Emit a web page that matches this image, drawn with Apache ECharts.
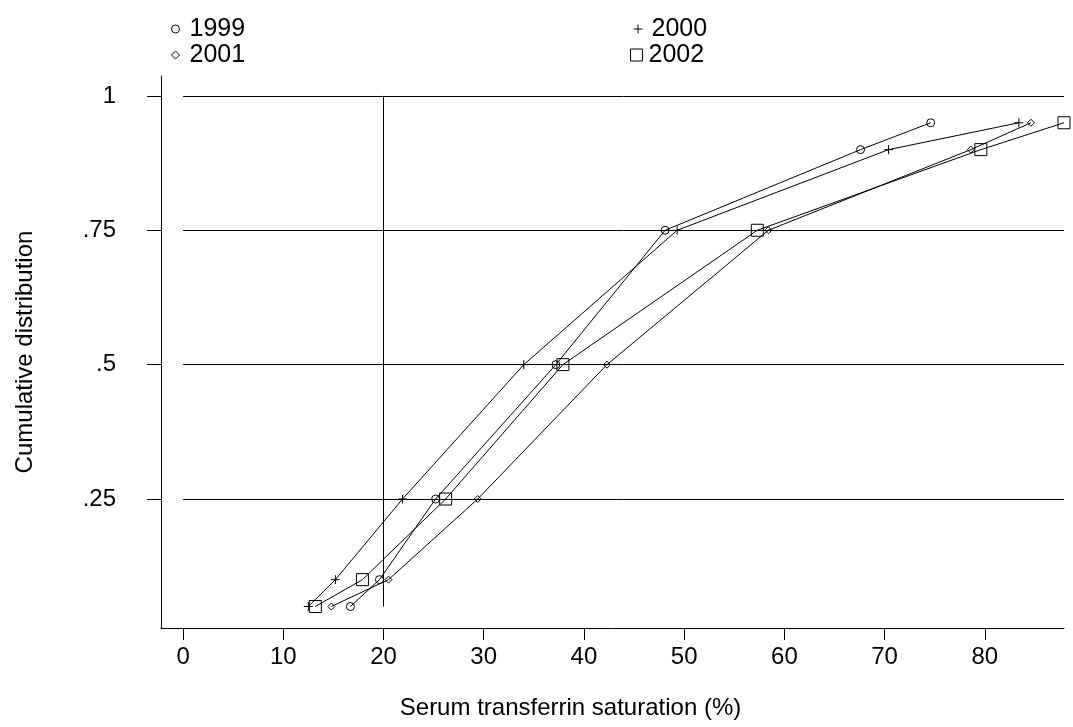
<!DOCTYPE html>
<html>
<head>
<meta charset="utf-8">
<script src="https://cdn.jsdelivr.net/npm/echarts@6/dist/echarts.min.js"></script>
<style>
    html, body { margin: 0; padding: 0; background: #fff; }
    #chart { width: 1073px; height: 727px; }
</style>
</head>
<body>
<div id="chart"></div>
<script>
// cumulative levels (y) shared by every year
const levels = [0.05, 0.1, 0.25, 0.5, 0.75, 0.9, 0.95]
// serum transferrin saturation (%) at each level
const sat1999 = [16.7, 19.6, 25.2, 37.2, 48.1, 67.6, 74.6]
const sat2000 = [12.5, 15.2, 21.9, 34.0, 49.3, 70.4, 83.4]
const sat2001 = [14.8, 20.5, 29.4, 42.3, 58.4, 78.6, 84.6]
const sat2002 = [13.2, 17.9, 26.2, 37.9, 57.3, 79.6, 87.9]

const xTicks = [0, 10, 20, 30, 40, 50, 60, 70, 80]
const yTicks = [0.25, 0.5, 0.75, 1]
const yTickLabels = [".25", ".5", ".75", "1"]
const refX = 20

const FONT = "'Liberation Sans', Arial, sans-serif"
const plus = "path://M0,5L10,5M5,0L5,10"

function pairs(xs) {
    return xs.map((x, i) => [x, levels[i]])
}

const xMax = Math.max(...sat2002)

// horizontal lines from x = 0 to the right edge, plus the reference line at 20%
const refLines = [[{ coord: [refX, levels[0]] }, { coord: [refX, 1] }]].concat(
    yTicks.map(v => [{ coord: [0, v] }, { coord: [xMax, v] }]),
)

const seriesDefs = [
    { name: "1999", data: sat1999, symbol: "circle", size: 8 },
    { name: "2000", data: sat2000, symbol: plus, size: 9 },
    { name: "2001", data: sat2001, symbol: "diamond", size: 7 },
    { name: "2002", data: sat2002, symbol: "rect", size: 12 },
]

const series = seriesDefs.map((s, i) => ({
    name: s.name,
    type: "line",
    data: pairs(s.data),
    symbol: s.symbol,
    symbolSize: s.size,
    showAllSymbol: true,
    animation: false,
    lineStyle: { color: "#000", width: 1 },
    itemStyle: { color: "transparent", borderColor: "#000", borderWidth: 1 },
    emphasis: { disabled: true },
    markLine:
        i === 0
            ? {
                  silent: true,
                  symbol: "none",
                  label: { show: false },
                  lineStyle: { color: "#000", width: 1, type: "solid" },
                  data: refLines,
              }
            : undefined,
}))

function legendAt(left, top, size, items) {
    return {
        orient: "vertical",
        left: left,
        top: top,
        itemGap: 0,
        itemWidth: size,
        itemHeight: size,
        textStyle: {
            fontFamily: FONT,
            fontSize: 25,
            color: "#000",
            lineHeight: 26,
            padding: [0, 0, 0, 13 - size],
        },
        itemStyle: { color: "transparent", borderColor: "#000", borderWidth: 1 },
        lineStyle: { width: 0 },
        selectedMode: false,
        data: items,
    }
}

const chart = echarts.init(document.getElementById("chart"))
chart.setOption({
    backgroundColor: "#fff",
    animation: false,
    legend: [
        legendAt(166, 11, 8, [{ name: "1999", icon: "circle" }, { name: "2001", icon: "diamond" }]),
        legendAt(628, 11, 9, [{ name: "2000", icon: plus }]),
        legendAt(625, 37, 12, [{ name: "2002", icon: "rect" }]),
    ],
    grid: { left: 161, right: 9, top: 76, bottom: 99, outerBoundsMode: "none" },
    xAxis: {
        type: "value",
        min: -2.2,
        max: xMax,
        name: "Serum transferrin saturation (%)",
        nameLocation: "middle",
        nameGap: 68,
        nameTextStyle: { fontFamily: FONT, fontSize: 24, color: "#000", padding: [0, 84, 0, 0] },
        axisLine: { show: true, onZero: false, lineStyle: { color: "#000", width: 1 } },
        axisTick: { show: true, length: 12, customValues: xTicks, lineStyle: { color: "#000" } },
        axisLabel: { fontFamily: FONT, fontSize: 24, color: "#000", margin: 17, customValues: xTicks },
        splitLine: { show: false },
    },
    yAxis: {
        type: "value",
        min: 0.01,
        max: 1.037,
        name: "Cumulative distribution",
        nameLocation: "middle",
        nameGap: 124,
        nameTextStyle: { fontFamily: FONT, fontSize: 24, color: "#000" },
        axisLine: { show: true, onZero: false, lineStyle: { color: "#000", width: 1 } },
        axisTick: { show: true, length: 14, customValues: yTicks, lineStyle: { color: "#000" } },
        axisLabel: {
            fontFamily: FONT,
            fontSize: 24,
            color: "#000",
            margin: 45,
            customValues: yTicks,
            formatter: v => yTickLabels[yTicks.indexOf(v)] ?? "",
        },
        splitLine: { show: false },
    },
    series: series,
})
</script>
</body>
</html>
